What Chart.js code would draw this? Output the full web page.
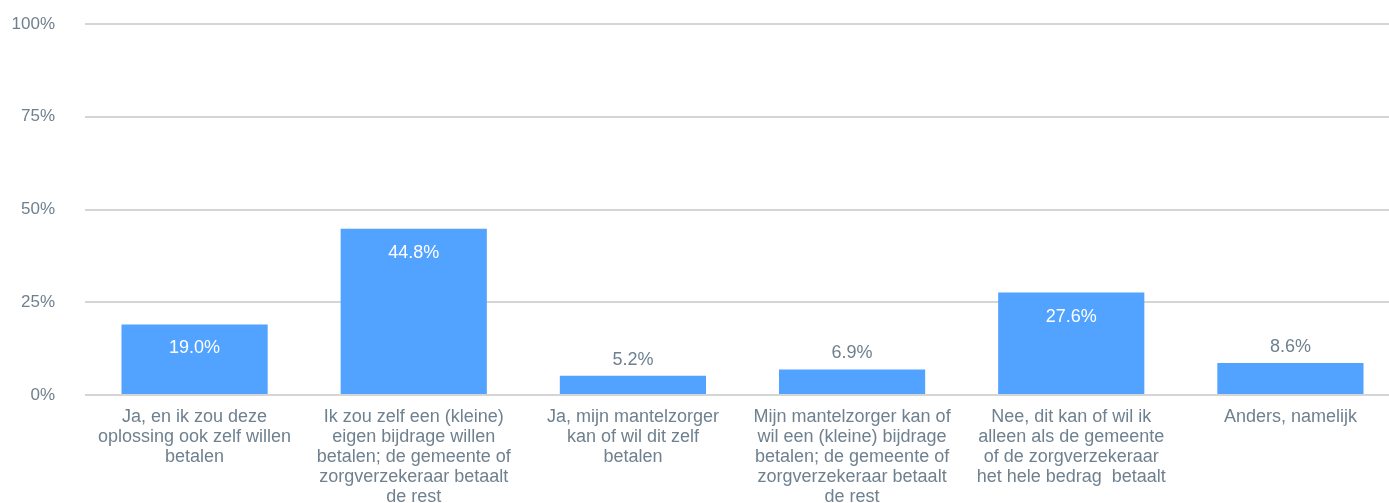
<!DOCTYPE html>
<html>
<head>
<meta charset="utf-8">
<script src="https://cdn.jsdelivr.net/npm/chart.js@4"></script>
<style>
  html, body { margin: 0; padding: 0; background: #fff; overflow: hidden; }
  #grafica { display: block; }
</style>
</head>
<body>
<canvas id="grafica" width="1400" height="503"></canvas>
<script>
// categorieën (meerdere regels per label)
const categorieen = [
  ['Ja, en ik zou deze', 'oplossing ook zelf willen', 'betalen'],
  ['Ik zou zelf een (kleine)', 'eigen bijdrage willen', 'betalen; de gemeente of', 'zorgverzekeraar betaalt', 'de rest'],
  ['Ja, mijn mantelzorger', 'kan of wil dit zelf', 'betalen'],
  ['Mijn mantelzorger kan of', 'wil een (kleine) bijdrage', 'betalen; de gemeente of', 'zorgverzekeraar betaalt', 'de rest'],
  ['Nee, dit kan of wil ik', 'alleen als de gemeente', 'of de zorgverzekeraar', 'het hele bedrag  betaalt'],
  ['Anders, namelijk']
];
const percentages = [19.0, 44.8, 5.2, 6.9, 27.6, 8.6];
const yTicks = [0, 25, 50, 75, 100];

const tekstKleur = '#6f808f';
const lettertype = '"Liberation Sans", Arial, Helvetica, sans-serif';

// waarden op de balken tekenen
const waardeLabels = {
  id: 'waardeLabels',
  afterDatasetsDraw(chart) {
    const ctx = chart.ctx;
    const meta = chart.getDatasetMeta(0);
    ctx.save();
    ctx.font = '18px ' + lettertype;
    ctx.textAlign = 'center';
    ctx.textBaseline = 'middle';
    meta.data.forEach((bar, i) => {
      const tekst = percentages[i].toFixed(1) + '%';
      const hoogte = bar.base - bar.y;
      if (hoogte > 45) {
        ctx.fillStyle = '#ffffff';
        ctx.fillText(tekst, bar.x, bar.y + 24);
      } else {
        ctx.fillStyle = tekstKleur;
        ctx.fillText(tekst, bar.x, bar.y - 16);
      }
    });
    ctx.restore();
  }
};

const ctx = document.getElementById('grafica').getContext('2d');
new Chart(ctx, {
  type: 'bar',
  data: {
    labels: categorieen,
    datasets: [{
      data: percentages,
      backgroundColor: '#52a2ff',
      borderWidth: 0,
      categoryPercentage: 1.0,
      barPercentage: 0.667
    }]
  },
  options: {
    responsive: false,
    animation: false,
    layout: { padding: { top: 24, right: 0, left: 0, bottom: 0 } },
    plugins: {
      legend: { display: false },
      tooltip: { enabled: false }
    },
    scales: {
      x: {
        grid: { display: false },
        border: { display: false },
        ticks: {
          color: tekstKleur,
          font: { family: lettertype, size: 18, lineHeight: '20px' },
          maxRotation: 0,
          autoSkip: false,
          padding: 4
        },
        afterFit(scale) { scale.height = 108; }
      },
      y: {
        min: 0,
        max: 100,
        afterBuildTicks(scale) { scale.ticks = yTicks.map(v => ({ value: v })); },
        grid: { color: '#d5d5d5', lineWidth: 2, tickLength: 0 },
        border: { display: false },
        ticks: {
          color: tekstKleur,
          font: { family: lettertype, size: 17 },
          padding: 30,
          callback: v => v + '%'
        },
        afterFit(scale) {
          scale.width = 85;
          // tick-padding niet meetellen bovenaan/onderaan
          scale.paddingTop = 0;
          scale.paddingBottom = 0;
        }
      }
    }
  },
  plugins: [waardeLabels]
});
</script>
</body>
</html>
